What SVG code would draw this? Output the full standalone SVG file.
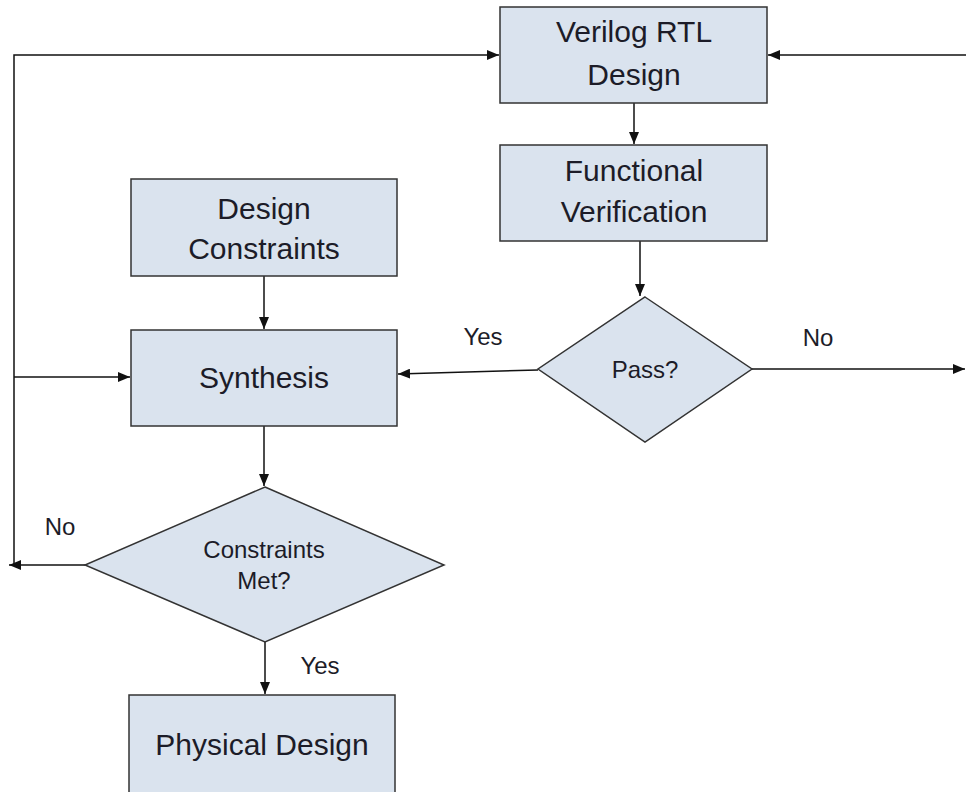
<svg xmlns="http://www.w3.org/2000/svg" width="966" height="792" viewBox="0 0 966 792">
<style>
.box{fill:#dae3ee;stroke:#333;stroke-width:1.5}
.t{font-family:"Liberation Sans",Arial,sans-serif;font-size:30px;fill:#1c1c28;text-anchor:middle}
.s{font-family:"Liberation Sans",Arial,sans-serif;font-size:24px;fill:#1c1c28;text-anchor:middle}
.c{fill:none;stroke:#111;stroke-width:1.5}
</style>
<defs>
<marker id="ah" markerWidth="12" markerHeight="10" refX="12" refY="5" orient="auto" markerUnits="userSpaceOnUse">
<path d="M0,0 L12,5 L0,10 Z" fill="#111"/>
</marker>
</defs>
<g id="connectors">
<path class="c" d="M634,103 V144" marker-end="url(#ah)"/>
<path class="c" d="M966,55 H768" marker-end="url(#ah)"/>
<path class="c" d="M14,565 V55 H499" marker-end="url(#ah)"/>
<path class="c" d="M14,377 H130" marker-end="url(#ah)"/>
<path class="c" d="M640,241 V296" marker-end="url(#ah)"/>
<path class="c" d="M538,370 L398,374" marker-end="url(#ah)"/>
<path class="c" d="M752,369 H965" marker-end="url(#ah)"/>
<path class="c" d="M264,276 V329" marker-end="url(#ah)"/>
<path class="c" d="M264,426 V486" marker-end="url(#ah)"/>
<path class="c" d="M85,565 H9" marker-end="url(#ah)"/>
<path class="c" d="M265,642 V694" marker-end="url(#ah)"/>
<text class="s" x="483" y="345">Yes</text>
<text class="s" x="818" y="346">No</text>
<text class="s" x="60" y="535">No</text>
<text class="s" x="320" y="674">Yes</text>
</g>
<g id="verilog">
<rect class="box" x="500" y="7" width="267" height="96"/>
<text class="t" x="634" y="42">Verilog RTL</text>
<text class="t" x="634" y="85">Design</text>
</g>
<g id="funcver">
<rect class="box" x="500" y="145" width="267" height="96"/>
<text class="t" x="634" y="181">Functional</text>
<text class="t" x="634" y="222">Verification</text>
</g>
<g id="constraints">
<rect class="box" x="131" y="179" width="266" height="97"/>
<text class="t" x="264" y="219">Design</text>
<text class="t" x="264" y="259">Constraints</text>
</g>
<g id="synthesis">
<rect class="box" x="131" y="330" width="266" height="96"/>
<text class="t" x="264" y="388">Synthesis</text>
</g>
<g id="pass">
<polygon class="box" points="645,297 752,369 645,442 538,369"/>
<text class="s" x="645" y="378">Pass?</text>
</g>
<g id="met">
<polygon class="box" points="265,487 444,565 265,642 85,565"/>
<text class="s" x="264" y="558">Constraints</text>
<text class="s" x="264" y="589">Met?</text>
</g>
<g id="physical">
<rect class="box" x="129" y="695" width="266" height="110"/>
<text class="t" x="262" y="755">Physical Design</text>
</g>
</svg>
